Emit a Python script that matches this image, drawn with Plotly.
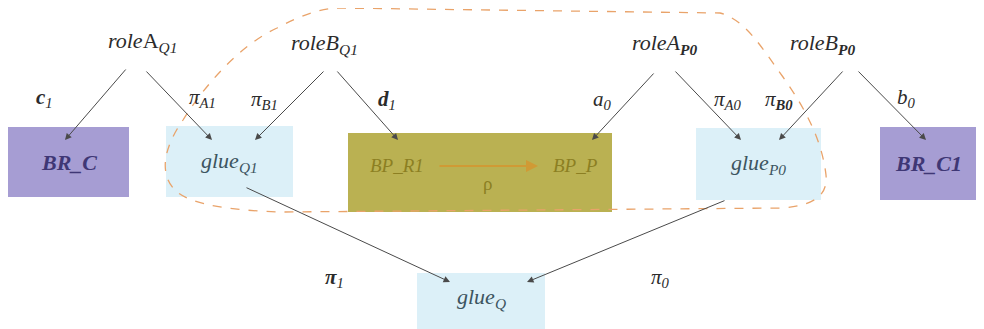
import plotly.graph_objects as go

SERIF = 'Liberation Serif'

# boxes: label, x0, x1, y0, y1 (pixel space, y downwards)
box_labels = ['<b><i>BR_C</i></b>', '<i>glue</i><sub><i>Q1</i></sub>', '', '<i>glue</i><sub><i>P0</i></sub>',
              '<b><i>BR_C1</i></b>', '<i>glue</i><sub><i>Q</i></sub>']
box_x0 = [8, 166, 348, 696, 880, 417]
box_x1 = [129, 293, 612, 821, 976, 545]
box_y0 = [127, 126, 133, 128, 127, 273]
box_y1 = [197, 197, 212, 200, 200, 329]
box_fill = ['#a69dd3', '#dcf0f8', '#bab152', '#dcf0f8', '#a69dd3', '#dcf0f8']
box_font = ['#3f3775', '#3c5560', '#3c5560', '#3c5560', '#3f3775', '#3c5560']

# role nodes
role_labels = ['<i>role</i>A<sub><i>Q1</i></sub>', '<i>roleB</i><sub><i>Q1</i></sub>',
               '<i>roleA</i><sub><b><i>P0</i></b></sub>', '<i>roleB</i><sub><b><i>P0</i></b></sub>']
role_x = [142, 324, 664, 822]
role_y = [42, 44, 44, 44]

# edges: start, end, label, label position
edge_x0 = [127, 145, 325, 336, 655, 674, 844, 857, 245, 726]
edge_y0 = [68, 70, 70, 70, 72, 70, 70, 70, 187, 200]
edge_x1 = [65, 212, 255, 398, 592, 741, 779, 926, 450, 527]
edge_y1 = [140, 140, 140, 140, 140, 140, 140, 140, 282, 282]
edge_labels = ['<b><i>c</i></b><sub><i>1</i></sub>', '<i>π</i><sub><i>A1</i></sub>', '<i>π</i><sub><i>B1</i></sub>',
               '<b><i>d</i></b><sub><i>1</i></sub>', '<i>a</i><sub><i>0</i></sub>', '<i>π</i><sub><i>A0</i></sub>',
               '<i>π</i><sub><b><i>B0</i></b></sub>', '<i>b</i><sub><i>0</i></sub>',
               '<b><i>π</i></b><sub><i>1</i></sub>', '<i>π</i><sub><i>0</i></sub>']
edge_lx = [44, 202, 264, 387, 602, 728, 779, 906, 334, 660]
edge_ly = [98, 98, 100, 100, 100, 100, 100, 98, 278, 278]

# inner BP box content
bp_labels = ['<i>BP_R1</i>', '<i>BP_P</i>', 'ρ']
bp_x = [397, 575, 487]
bp_y = [165, 165, 183]

fig = go.Figure()
fig.add_trace(go.Scatter(x=[8, 984], y=[8, 329], mode='markers', marker=dict(opacity=0),
                         hoverinfo='skip', showlegend=False))

for lab, x0, x1, y0, y1, fc, tc in zip(box_labels, box_x0, box_x1, box_y0, box_y1, box_fill, box_font):
    fig.add_shape(type='rect', x0=x0, x1=x1, y0=y0, y1=y1, fillcolor=fc, line=dict(width=0), layer='below')
    if lab:
        fig.add_annotation(x=(x0 + x1) / 2, y=(y0 + y1) / 2 + (0 if y1 < 300 else -3), text=lab,
                           showarrow=False, font=dict(family=SERIF, size=22, color=tc))

# dashed outline around the glue region
fig.add_shape(type='path',
              path='M 337,8 L 720,13 C 745,20 760,45 783,77 C 805,108 822,140 826,175 '
                   'C 828,195 815,205 783,208 L 283,212 C 240,211 190,206 175,190 '
                   'C 160,175 162,150 183,120 C 205,85 240,45 277,28 C 300,16 318,9 337,8 Z',
              line=dict(color='#e9a36a', width=1.3, dash='dash'))

for lab, x, y in zip(role_labels, role_x, role_y):
    fig.add_annotation(x=x, y=y, text=lab, showarrow=False, font=dict(family=SERIF, size=22, color='#2b2b2b'))

for x0, y0, x1, y1 in zip(edge_x0, edge_y0, edge_x1, edge_y1):
    fig.add_annotation(x=x1, y=y1, ax=x0, ay=y0, axref='x', ayref='y', xref='x', yref='y',
                       showarrow=True, arrowhead=2, arrowsize=1.3, arrowwidth=1, arrowcolor='#4a4a4a', text='')

for lab, x, y in zip(edge_labels, edge_lx, edge_ly):
    fig.add_annotation(x=x, y=y, text=lab, showarrow=False, font=dict(family=SERIF, size=21, color='#2b2b2b'))

for lab, x, y in zip(bp_labels, bp_x, bp_y):
    fig.add_annotation(x=x, y=y, text=lab, showarrow=False, font=dict(family=SERIF, size=19, color='#8c7f22'))

# rho arrow inside BP box
fig.add_annotation(x=538, y=166, ax=438, ay=166, axref='x', ayref='y', showarrow=True, arrowhead=2,
                   arrowsize=1.2, arrowwidth=2, arrowcolor='#d09a35', text='')

# page body has an 8px margin, so the figure covers screen pixels 8..984 / 8..329
fig.update_layout(width=976, height=321, margin=dict(l=0, r=0, t=0, b=0),
                  plot_bgcolor='white', paper_bgcolor='white',
                  font=dict(family=SERIF), showlegend=False)
fig.update_xaxes(range=[8, 984], visible=False)
fig.update_yaxes(range=[329, 8], visible=False)

fig.write_html('out.html')
